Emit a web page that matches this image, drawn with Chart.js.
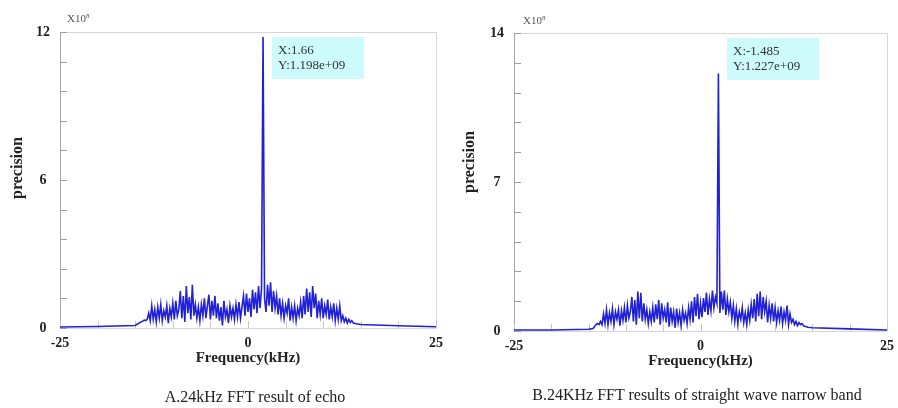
<!DOCTYPE html>
<html><head><meta charset="utf-8">
<script src="https://cdn.jsdelivr.net/npm/chart.js@4/dist/chart.umd.min.js"></script>
<style>
body{margin:0;background:#fff;}
#wrap{position:relative;width:898px;height:408px;overflow:hidden;background:#fff;font-family:'Liberation Serif','Times New Roman',serif;color:#222;}
canvas{position:absolute;top:0;}
.lbl{position:absolute;white-space:nowrap;line-height:1;}
.cap{position:absolute;white-space:nowrap;transform:translateX(-50%);font-size:16px;line-height:1;}
</style></head><body>
<div id="wrap">
<canvas id="cA" width="450" height="408" style="left:0"></canvas>
<canvas id="cB" width="451" height="408" style="left:450px"></canvas>
<div class="lbl" style="left:67px;top:13px;font-size:11px;color:#555">X10<span style="font-size:7px;vertical-align:top">8</span></div>
<div class="lbl" style="left:523px;top:15px;font-size:11px;color:#555">X10<span style="font-size:7px;vertical-align:top">8</span></div>
<div class="cap" style="left:255px;top:389px">A.24kHz FFT result of echo</div>
<div class="cap" style="left:697px;top:387px">B.24KHz FFT results of straight wave narrow band</div>
</div>
<script>
// Frequency grid (kHz), shared by both panels
const freq = [-25,-20,-15,-14.4,
-14,-13.8,-13.6,-13.4,-13.2,-13,-12.8,-12.6,-12.4,-12.2,
-12,-11.8,-11.6,-11.4,-11.2,-11,-10.8,-10.6,-10.4,-10.2,
-10,-9.8,-9.6,-9.4,-9.2,-9,-8.8,-8.6,-8.4,-8.2,
-8,-7.8,-7.6,-7.4,-7.2,-7,-6.8,-6.6,-6.4,-6.2,
-6,-5.8,-5.6,-5.4,-5.2,-5,-4.8,-4.6,-4.4,-4.2,
-4,-3.8,-3.6,-3.4,-3.2,-3,-2.8,-2.6,-2.4,-2.2,
-2,-1.8,-1.6,-1.4,-1.2,-1,-0.8,-0.6,-0.4,-0.2,
0,0.2,0.4,0.6,0.8,1,1.2,1.4,1.6,1.8,
2,2.2,2.4,2.6,2.8,3,3.2,3.4,3.6,3.8,
4,4.2,4.4,4.6,4.8,5,5.2,5.4,5.6,5.8,
6,6.2,6.4,6.6,6.8,7,7.2,7.4,7.6,7.8,
8,8.2,8.4,8.6,8.8,9,9.2,9.4,9.6,9.8,
10,10.2,10.4,10.6,10.8,11,11.2,11.4,11.6,11.8,
12,12.2,12.4,12.6,12.8,13,13.2,13.4,13.6,13.8,
14,
14.4,15,20,25];

// Panel A: echo spectrum (x10^8)
const precA = [0.04,0.06,0.1,0.22,
0.28,0.32,0.3,0.35,0.6,0.3,0.9,0.35,0.75,0.25,
0.85,0.4,0.95,0.3,0.7,0.45,0.9,0.2,0.8,0.45,
1.0,0.35,1.1,0.5,0.75,1.5,0.4,1.3,0.25,1.7,
0.6,1.25,0.35,1.75,0.5,0.95,0.4,0.85,0.3,0.95,
0.5,1.2,0.4,0.9,1.35,0.35,1.1,0.5,1.3,0.4,
1.0,0.3,0.85,0.1,1.1,0.45,0.75,0.2,0.9,0.45,
0.8,0.35,0.95,0.45,1.05,0.4,0.85,1.3,0.5,1.4,
0.65,1.2,0.45,1.55,0.75,1.45,0.6,1.7,0.8,1.6,
11.8,1.2,0.65,1.75,0.9,1.85,0.65,1.5,0.8,1.3,
0.55,1.2,0.5,1.0,0.4,0.9,0.6,1.2,0.3,0.85,
0.4,0.9,0.3,0.8,0.5,1.05,0.4,1.3,0.55,1.6,
0.65,1.45,0.45,1.7,0.8,1.4,0.4,1.1,0.55,1.2,
0.4,0.9,0.55,1.15,0.35,0.85,0.45,1.0,0.3,0.8,
0.35,0.9,0.3,0.5,0.25,0.4,0.2,0.35,0.22,0.3,
0.2,
0.17,0.14,0.09,0.05];

// Panel B: straight wave narrow band spectrum (x10^8)
const precB = [0.05,0.05,0.08,0.12,
0.3,0.35,0.3,0.45,0.3,0.8,0.35,1.0,0.3,0.85,
0.45,1.05,0.3,0.9,0.55,1.0,0.25,0.95,0.5,1.1,
0.4,1.2,0.6,0.9,1.6,0.45,1.45,0.3,1.85,0.6,
1.8,0.45,1.3,0.55,1.0,0.35,0.9,0.45,1.1,0.4,
1.25,0.55,1.45,0.3,1.3,0.6,1.0,0.4,1.35,0.2,
1.1,0.45,0.9,0.15,1.05,0.4,0.85,0.25,1.0,0.5,
0.85,0.35,1.1,0.55,1.4,0.4,1.6,0.7,1.75,0.55,
1.3,0.65,1.55,0.9,1.8,0.75,1.5,0.95,1.9,1.1,
1.6,1.3,12.1,0.85,1.85,1.0,1.9,0.75,1.5,0.9,
1.35,0.6,1.2,0.45,1.05,0.35,0.9,0.55,1.1,0.4,
0.85,0.3,1.0,0.5,1.25,0.6,1.5,0.45,1.75,0.7,
1.85,0.55,1.6,0.9,1.4,0.4,1.2,0.6,1.3,0.45,
1.1,0.4,0.95,0.5,1.15,0.35,0.9,0.5,1.2,0.3,
0.8,0.4,0.55,0.3,0.45,0.25,0.4,0.3,0.35,0.25,
0.22,
0.18,0.15,0.1,0.05];

const xTickLabels = [-25, 0, 25];
const yTickLabelsA = [0, 6, 12];
const yTickLabelsB = [0, 7, 14];
const noteA = ['X:1.66', 'Y:1.198e+09'];
const noteB = ['X:-1.485', 'Y:1.227e+09'];
const peakXA = 2.0, peakXB = 2.4;

const framePlugin = {
  id: 'frame',
  beforeDatasetsDraw(chart, args, opts) {
    const {ctx, chartArea: a, scales: {x, y}} = chart;
    ctx.save();
    ctx.lineWidth = 1;
    ctx.strokeStyle = '#d6d6d6';
    ctx.beginPath();
    ctx.moveTo(a.left, a.top + 0.5);
    ctx.lineTo(a.right + 0.5, a.top + 0.5);
    ctx.lineTo(a.right + 0.5, a.bottom + 0.5);
    ctx.lineTo(a.left, a.bottom + 0.5);
    ctx.stroke();
    ctx.strokeStyle = '#a8a8a8';
    ctx.beginPath();
    ctx.moveTo(a.left + 0.5, a.top);
    ctx.lineTo(a.left + 0.5, a.bottom + 1);
    ctx.stroke();
    ctx.strokeStyle = '#a0a0a0';
    y.ticks.forEach(t => {
      const py = Math.round(y.getPixelForValue(t.value)) + 0.5;
      ctx.beginPath(); ctx.moveTo(a.left, py); ctx.lineTo(a.left + 7, py); ctx.stroke();
    });
    ctx.strokeStyle = '#c8c8c8';
    x.ticks.forEach(t => {
      const px = Math.round(x.getPixelForValue(t.value)) + 0.5;
      ctx.beginPath(); ctx.moveTo(px, a.bottom); ctx.lineTo(px, a.bottom - 7); ctx.stroke();
    });
    ctx.restore();
  },
  afterDatasetsDraw(chart, args, opts) {
    const {ctx, chartArea: a, scales: {x}} = chart;
    const bx = Math.round(x.getPixelForValue(opts.peakX)) + 9;
    const by = a.top + 5;
    ctx.save();
    ctx.fillStyle = '#cdfafa';
    ctx.fillRect(bx, by, 92, 42);
    ctx.fillStyle = '#333';
    ctx.font = '13px "Liberation Serif", serif';
    ctx.textBaseline = 'middle';
    ctx.textAlign = 'left';
    ctx.fillText(opts.lines[0], bx + 6, by + 14);
    ctx.fillText(opts.lines[1], bx + 6, by + 29);
    ctx.restore();
  }
};

function makeChart(id, prec, yMax, yStep, yLabels, pad, yWidth, titlePad, yTitle, peakX, lines) {
  const pts = freq.map((f, i) => ({x: f, y: prec[i]}));
  return new Chart(document.getElementById(id), {
    type: 'line',
    data: { datasets: [{ data: pts, borderColor: '#2020d6', borderWidth: 1.6, pointRadius: 0, tension: 0, fill: false }] },
    options: {
      responsive: false, animation: false, devicePixelRatio: 1,
      layout: { padding: pad },
      plugins: { legend: {display: false}, tooltip: {enabled: false}, frame: {peakX: peakX, lines: lines} },
      scales: {
        x: {
          type: 'linear', min: -25, max: 25,
          grid: {display: true, drawOnChartArea: false, drawTicks: false},
          border: {display: false},
          afterFit: s => { s.height = 45; },
          ticks: {
            stepSize: 5, autoSkip: false, maxRotation: 0, padding: 7, color: '#222',
            font: {family: 'Liberation Serif', size: 14, weight: 'bold'},
            callback: v => xTickLabels.includes(v) ? String(v) : ''
          },
          title: { display: true, text: 'Frequency(kHz)', color: '#222', padding: {top: 0, bottom: 6},
            font: {family: 'Liberation Serif', size: 15, weight: 'bold'} }
        },
        y: {
          type: 'linear', min: 0, max: yMax,
          grid: {display: true, drawOnChartArea: false, drawTicks: false},
          border: {display: false},
          afterFit: s => { s.width = yWidth; },
          ticks: {
            stepSize: yStep, autoSkip: false, padding: 10, crossAlign: 'center', color: '#222',
            font: {family: 'Liberation Serif', size: 14, weight: 'bold'},
            callback: v => yLabels.some(l => Math.abs(l - v) < 1e-6) ? String(Math.round(v)) : ''
          },
          title: { display: true, text: yTitle, color: '#222', padding: {top: titlePad, bottom: 0},
            font: {family: 'Liberation Serif', size: 16, weight: 'bold'} }
        }
      }
    },
    plugins: [framePlugin]
  });
}

makeChart('cA', precA, 12, 1.2, yTickLabelsA, {left: 0, top: 32, right: 14, bottom: 35}, 60, 8, '      precision', peakXA, noteA);
makeChart('cB', precB, 14, 1.4, yTickLabelsB, {left: 0, top: 33, right: 14, bottom: 32}, 64, 10, '          precision', peakXB, noteB);
</script>
</body></html>
